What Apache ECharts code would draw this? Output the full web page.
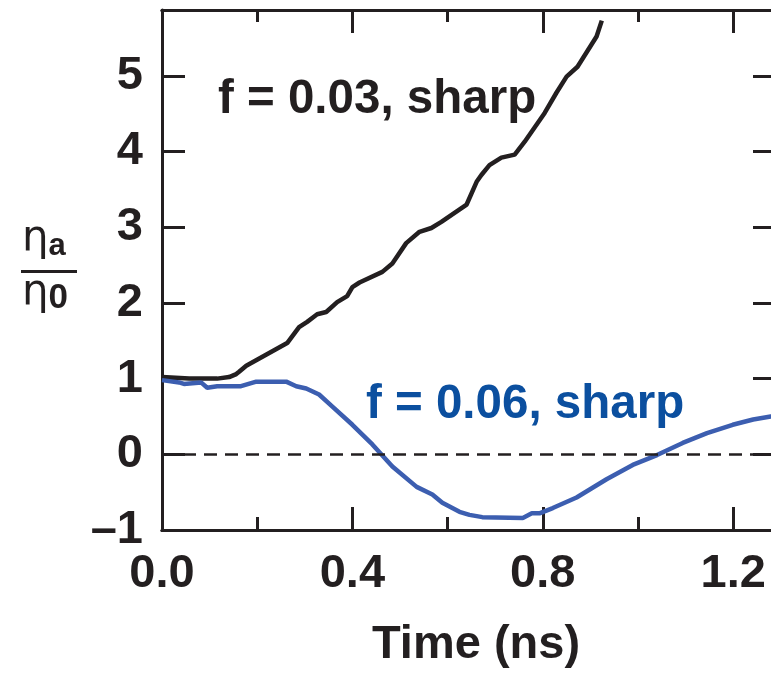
<!DOCTYPE html>
<html>
<head>
<meta charset="utf-8">
<script src="https://cdn.jsdelivr.net/npm/echarts@6/dist/echarts.min.js"></script>
<style>
  html, body { margin: 0; padding: 0; background: #fff; }
  #chart { width: 771px; height: 674px; }
</style>
</head>
<body>
<div id="chart"></div>
<script>
// f = 0.03, sharp (black)
const timeA = [0.000, 0.057, 0.116, 0.141, 0.156, 0.162, 0.177, 0.263, 0.288, 0.305, 0.326, 0.345,
    0.368, 0.389, 0.400, 0.415, 0.463, 0.484, 0.513, 0.541, 0.566, 0.587, 0.640, 0.661, 0.671,
    0.688, 0.713, 0.741, 0.762, 0.804, 0.829, 0.850, 0.873, 0.913, 0.924];
const etaA = [1.02, 1.00, 1.00, 1.02, 1.06, 1.09, 1.17, 1.47, 1.68, 1.75, 1.85, 1.88,
    2.01, 2.09, 2.21, 2.27, 2.41, 2.52, 2.79, 2.94, 2.99, 3.07, 3.30, 3.60, 3.69,
    3.82, 3.92, 3.96, 4.13, 4.51, 4.78, 4.99, 5.12, 5.52, 5.73];

// f = 0.06, sharp (blue)
const timeB = [0.000, 0.036, 0.046, 0.082, 0.095, 0.116, 0.166, 0.198, 0.261, 0.282, 0.303, 0.330,
    0.358, 0.400, 0.442, 0.484, 0.535, 0.568, 0.589, 0.625, 0.646, 0.673, 0.758, 0.777, 0.793,
    0.821, 0.871, 0.934, 0.989, 1.040, 1.094, 1.145, 1.199, 1.242, 1.279, 1.290];
const etaB = [0.98, 0.95, 0.93, 0.95, 0.88, 0.90, 0.90, 0.96, 0.96, 0.90, 0.87, 0.79,
    0.63, 0.39, 0.13, -0.16, -0.43, -0.53, -0.64, -0.76, -0.80, -0.83, -0.84, -0.78, -0.78,
    -0.71, -0.57, -0.33, -0.14, -0.01, 0.15, 0.28, 0.39, 0.46, 0.50, 0.51];

const labelA = 'f = 0.03, sharp';
const labelB = 'f = 0.06, sharp';

const ink = '#231f20';
const lineBlue = '#3c5eb0';
const textBlue = '#0b4f9f';
const font = 'Liberation Sans, Arial, Helvetica, sans-serif';

const chart = echarts.init(document.getElementById('chart'));

const baseX = {
    type: 'value',
    min: 0,
    max: 1.29,
    splitLine: { show: false },
    axisLine: { show: true, onZero: false, lineStyle: { color: ink, width: 3 } }
};

const option = {
    animation: false,
    grid: { left: 162, right: -5, top: 10, bottom: 144, outerBoundsMode: 'none' },
    xAxis: [
        // main bottom axis: long ticks + labels
        Object.assign({}, baseX, {
            position: 'bottom',
            interval: 0.4,
            name: 'Time (ns)',
            nameLocation: 'middle',
            nameGap: 92,
            nameTextStyle: { fontFamily: font, fontWeight: 'bold', fontSize: 47, color: ink, padding: [0, 0, 0, 14] },
            axisTick: { inside: true, length: 23, lineStyle: { color: ink, width: 3 } },
            axisLabel: {
                margin: 21, fontFamily: font, fontWeight: 'bold', fontSize: 47, color: ink,
                showMaxLabel: false,
                formatter: v => v.toFixed(1)
            }
        }),
        // bottom short ticks
        Object.assign({}, baseX, {
            position: 'bottom',
            interval: 0.2,
            axisTick: { inside: true, length: 13, lineStyle: { color: ink, width: 3 } },
            axisLabel: { show: false }
        }),
        // top long ticks
        Object.assign({}, baseX, {
            position: 'top',
            interval: 0.4,
            axisTick: { inside: true, length: 23, lineStyle: { color: ink, width: 3 } },
            axisLabel: { show: false }
        }),
        // top short ticks
        Object.assign({}, baseX, {
            position: 'top',
            interval: 0.2,
            axisTick: { inside: true, length: 12, lineStyle: { color: ink, width: 3 } },
            axisLabel: { show: false }
        })
    ],
    yAxis: [
        {
            type: 'value',
            position: 'left',
            min: -1,
            max: 5.87,
            interval: 1,
            splitLine: { show: false },
            axisLine: { show: true, onZero: false, lineStyle: { color: ink, width: 3 } },
            axisTick: { inside: true, length: 23, lineStyle: { color: ink, width: 3 } },
            axisLabel: {
                margin: 19, fontFamily: font, fontWeight: 'bold', fontSize: 47, color: ink,
                showMaxLabel: false,
                formatter: v => (v < 0 ? '\u2013' + Math.abs(v) : String(v))
            }
        },
        {
            type: 'value',
            position: 'right',
            min: -1,
            max: 5.87,
            interval: 1,
            splitLine: { show: false },
            axisLine: { show: true, onZero: false, lineStyle: { color: ink, width: 3 } },
            axisTick: { inside: true, length: 23, lineStyle: { color: ink, width: 3 } },
            axisLabel: { show: false }
        }
    ],
    series: [
        {
            name: labelA,
            type: 'line',
            xAxisIndex: 0,
            yAxisIndex: 0,
            showSymbol: false,
            lineStyle: { color: ink, width: 4.5 },
            data: timeA.map((t, i) => [t, etaA[i]]),
            markLine: {
                silent: true,
                symbol: 'none',
                label: { show: false },
                lineStyle: { color: ink, width: 2.5, type: [13, 8] },
                data: [{ yAxis: 0 }]
            },
            z: 3
        },
        {
            name: labelB,
            type: 'line',
            xAxisIndex: 0,
            yAxisIndex: 0,
            showSymbol: false,
            lineStyle: { color: lineBlue, width: 4.5 },
            data: timeB.map((t, i) => [t, etaB[i]]),
            z: 3
        }
    ],
    graphic: [
        {
            type: 'text', left: 218, top: 76,
            style: { text: labelA, fill: ink, font: 'bold 47.5px ' + font }
        },
        {
            type: 'text', left: 366, top: 381,
            style: { text: labelB, fill: textBlue, font: 'bold 47.5px ' + font }
        },
        // y-axis label: eta_a / eta_0
        {
            type: 'text', left: 22, top: 218,
            style: {
                text: '{e|\u03b7}{s|a}',
                rich: {
                    e: { fontFamily: 'DejaVu Sans', fontSize: 42, fill: ink },
                    s: { fontFamily: font, fontWeight: 'bold', fontSize: 31, fill: ink, padding: [14, 0, 0, 0] }
                }
            }
        },
        {
            type: 'rect', left: 21, top: 270,
            shape: { width: 56, height: 3 },
            style: { fill: ink }
        },
        {
            type: 'text', left: 22, top: 272,
            style: {
                text: '{e|\u03b7}{s|0}',
                rich: {
                    e: { fontFamily: 'DejaVu Sans', fontSize: 42, fill: ink },
                    s: { fontFamily: font, fontWeight: 'bold', fontSize: 35, fill: ink, padding: [10, 0, 0, 0] }
                }
            }
        }
    ]
};

chart.setOption(option);
</script>
</body>
</html>
